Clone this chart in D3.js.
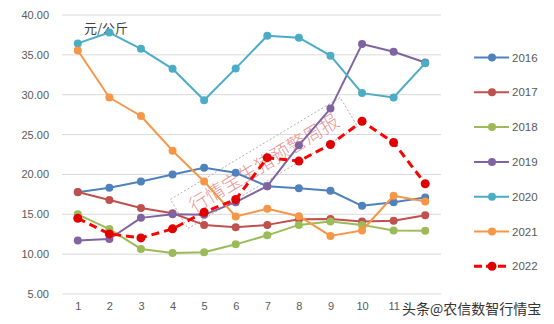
<!DOCTYPE html>
<html>
<head>
<meta charset="utf-8">
<script src="https://cdn.jsdelivr.net/npm/d3@7/dist/d3.min.js"></script>
<style>
  html, body { margin: 0; padding: 0; background: #fff; }
  svg { display: block; }
</style>
</head>
<body>
<script>
// Monthly pig price by year (元/公斤)
const months = [1, 2, 3, 4, 5, 6, 7, 8, 9, 10, 11, 12];
const monthLabels = [1, 2, 3, 4, 5, 6, 7, 8, 9, 10, 11];
const years = ["2016", "2017", "2018", "2019", "2020", "2021", "2022"];
const v2016 = [17.77, 18.33, 19.12, 20.0, 20.84, 20.2, 18.53, 18.28, 17.95, 16.06, 16.52, 17.1];
const v2017 = [17.8, 16.8, 15.8, 15.13, 13.67, 13.37, 13.67, 14.38, 14.42, 14.09, 14.2, 14.88];
const v2018 = [15.0, 13.14, 10.65, 10.15, 10.23, 11.23, 12.36, 13.67, 14.09, 13.67, 12.96, 12.92];
const v2019 = [11.7, 11.9, 14.55, 15.0, 14.93, 16.52, 18.53, 23.65, 28.26, 36.35, 35.39, 34.05];
const v2020 = [36.44, 37.8, 35.76, 33.25, 29.3, 33.3, 37.4, 37.15, 34.9, 30.2, 29.65, 33.96];
const v2021 = [35.55, 29.65, 27.33, 22.98, 19.12, 14.72, 15.7, 14.76, 12.29, 12.96, 17.32, 16.6];
const v2022 = [14.5, 12.54, 12.04, 13.17, 15.26, 16.86, 22.1, 21.67, 23.75, 26.67, 24.0, 18.83];
const yTicks = [5, 10, 15, 20, 25, 30, 35, 40];
const colors = ["#4F81BD", "#C0504D", "#9BBB59", "#8064A2", "#4BACC6", "#F79646", "#FF0000"];

const seriesList = [v2016, v2017, v2018, v2019, v2020, v2021, v2022].map((vals, i) => ({
  name: years[i], values: vals, color: colors[i], dashed: years[i] === "2022"
}));

const W = 554, H = 324;
const svg = d3.select("body").append("svg").attr("width", W).attr("height", H);
const font = "'Liberation Sans', 'DejaVu Sans', sans-serif";

const x = d3.scalePoint().domain(months).range([62, 441]).padding(0.5);
const y = d3.scaleLinear().domain([5, 40]).range([294, 15]);

// horizontal gridlines
svg.append("g").selectAll("line").data(yTicks).join("line")
  .attr("x1", 62).attr("x2", 441)
  .attr("y1", d => y(d)).attr("y2", d => y(d))
  .attr("stroke", "#d9d9d9").attr("stroke-width", 1);

// y axis labels
const yAxis = svg.append("g").attr("transform", "translate(49,0)")
  .call(d3.axisLeft(y).tickValues(yTicks).tickFormat(d3.format(".2f")).tickSize(0).tickPadding(0));
yAxis.select(".domain").remove();
yAxis.selectAll("text").attr("font-family", font).attr("font-size", 11).attr("fill", "#595959");

// x axis labels (the last month sits under the source mark)
const xAxis = svg.append("g").attr("transform", "translate(0,302)")
  .call(d3.axisBottom(x).tickValues(monthLabels).tickSize(0).tickPadding(0));
xAxis.select(".domain").remove();
xAxis.selectAll("text").attr("font-family", font).attr("font-size", 11).attr("fill", "#595959");

// unit label
svg.append("text").attr("x", 84).attr("y", 33)
  .attr("font-family", "'Noto Sans CJK SC', sans-serif").attr("font-size", 13)
  .attr("fill", "#404040").text("元/公斤");

// diagonal stamp
const stamp = svg.append("g").attr("transform", "translate(264,163) rotate(-31)");
stamp.append("rect").attr("x", -99).attr("y", -17).attr("width", 198).attr("height", 34)
  .attr("fill", "none").attr("stroke", "#a6a6a6").attr("stroke-width", 0.8)
  .attr("stroke-dasharray", "2,2");
stamp.append("text").attr("x", 0).attr("y", 7).attr("text-anchor", "middle")
  .attr("font-family", "'Noto Sans CJK SC', sans-serif").attr("font-size", 19)
  .attr("font-weight", 300)
  .attr("fill", "rgba(225,110,110,0.75)").text("行情宝生猪预警周报");

// lines and markers
const line = d3.line().x((d, i) => x(months[i])).y(d => y(d));
const g = svg.append("g");
seriesList.forEach(s => {
  g.append("path").datum(s.values)
    .attr("d", line).attr("fill", "none")
    .attr("stroke", s.color)
    .attr("stroke-width", s.dashed ? 3 : 2)
    .attr("stroke-dasharray", s.dashed ? "8,5" : null)
    .attr("stroke-linejoin", "round");
  g.append("g").selectAll("circle").data(s.values).join("circle")
    .attr("cx", (d, i) => x(months[i])).attr("cy", d => y(d))
    .attr("r", s.dashed ? 4.5 : 4)
    .attr("fill", s.dashed ? "#E00000" : s.color);
});

// legend
const legend = svg.append("g");
years.forEach((yr, i) => {
  const ly = 57.5 + i * 34.8;
  const s = seriesList[i];
  legend.append("line").attr("x1", 474).attr("x2", 509).attr("y1", ly).attr("y2", ly)
    .attr("stroke", s.color).attr("stroke-width", s.dashed ? 3 : 2)
    .attr("stroke-dasharray", s.dashed ? "8,4" : null);
  legend.append("circle").attr("cx", 492).attr("cy", ly).attr("r", s.dashed ? 4.5 : 4)
    .attr("fill", s.dashed ? "#E00000" : s.color);
  legend.append("text").attr("x", 512).attr("y", ly + 4)
    .attr("font-family", font).attr("font-size", 11.5).attr("fill", "#595959").text(yr);
});

// source mark in the corner
svg.append("text").attr("x", 402).attr("y", 314)
  .attr("font-family", "'Noto Sans CJK SC', sans-serif").attr("font-size", 14)
  .attr("fill", "#333").text("头条@农信数智行情宝");
</script>
</body>
</html>
